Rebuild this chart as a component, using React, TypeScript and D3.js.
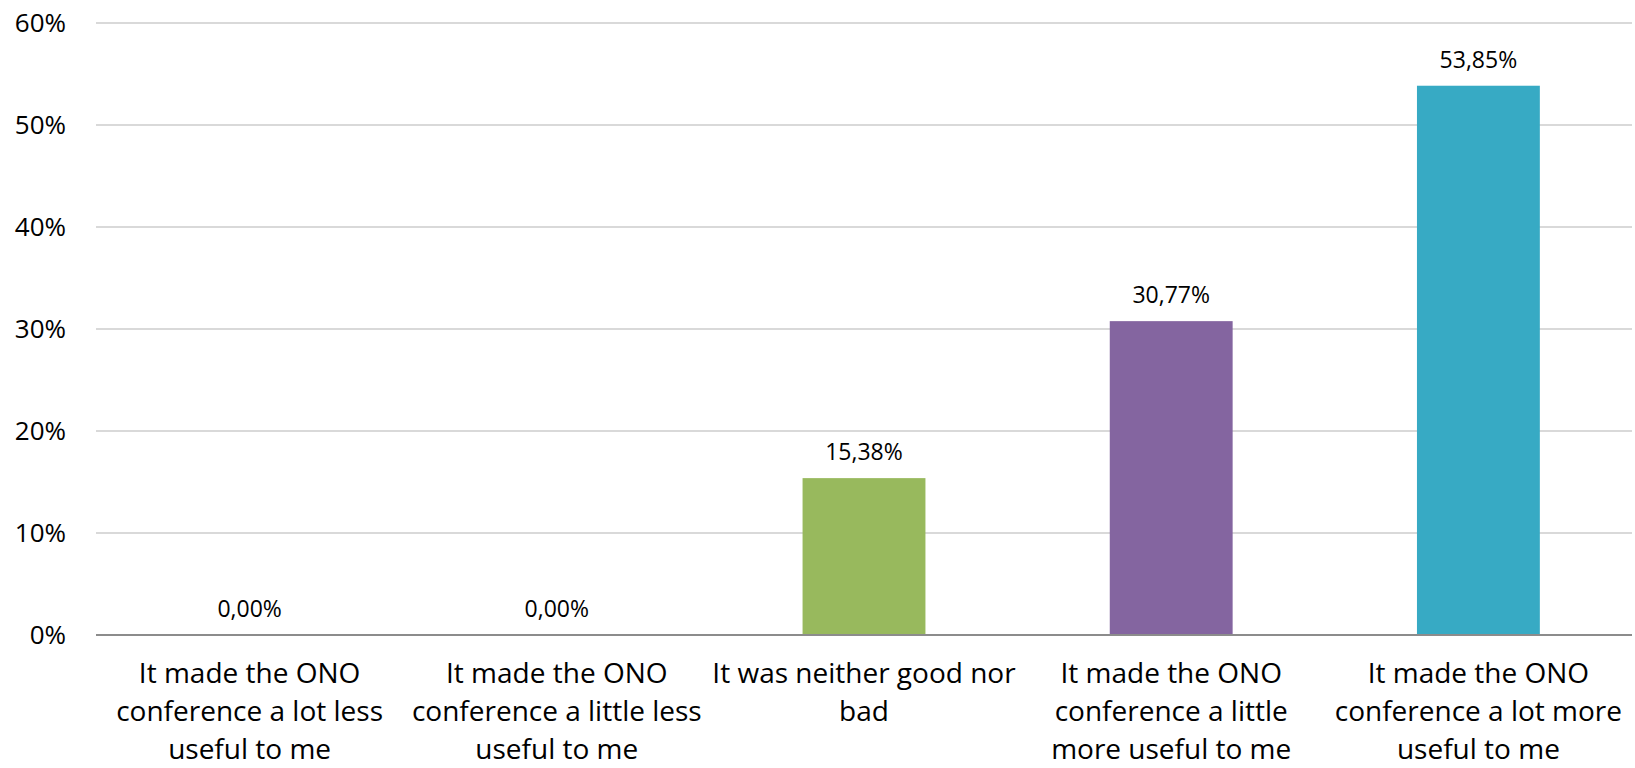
import { useEffect, useRef } from "react";
import * as d3 from "d3";

const categories = [
  "It made the ONO conference a lot less useful to me",
  "It made the ONO conference a little less useful to me",
  "It was neither good nor bad",
  "It made the ONO conference a little more useful to me",
  "It made the ONO conference a lot more useful to me",
];
// how the labels wrap in the original
const categoryLines = [
  ["It made the ONO", "conference a lot less", "useful to me"],
  ["It made the ONO", "conference a little less", "useful to me"],
  ["It was neither good nor", "bad"],
  ["It made the ONO", "conference a little", "more useful to me"],
  ["It made the ONO", "conference a lot more", "useful to me"],
];
const values = [0, 0, 15.38, 30.77, 53.85];
const barColors = ["#4F81BD", "#C0504D", "#98B95D", "#8465A0", "#37AAC4"];
const yTicks = [0, 10, 20, 30, 40, 50, 60];

const App = () => {
  const svgRef = useRef(null);
  const width = 1635;
  const height = 768;
  const margin = { top: 23, left: 96, bottom: 133, right: 3 };
  const font = "'Open Sans', 'DejaVu Sans', sans-serif";

  useEffect(() => {
    const svg = d3.select(svgRef.current);
    svg.selectAll("*").remove();

    const x = d3
      .scaleBand()
      .domain(categories)
      .range([margin.left, width - margin.right])
      .paddingInner(0.6)
      .paddingOuter(0.3);

    const y = d3
      .scaleLinear()
      .domain([0, 60])
      .range([height - margin.bottom, margin.top]);

    // gridlines
    svg
      .append("g")
      .selectAll("line")
      .data(yTicks.filter((t) => t > 0))
      .enter()
      .append("line")
      .attr("x1", margin.left)
      .attr("x2", width - margin.right)
      .attr("y1", (d) => y(d))
      .attr("y2", (d) => y(d))
      .attr("stroke", "#D9D9D9")
      .attr("stroke-width", 2);

    // y tick labels
    svg
      .append("g")
      .selectAll("text")
      .data(yTicks)
      .enter()
      .append("text")
      .attr("x", 66)
      .attr("y", (d) => y(d))
      .attr("dy", "0.35em")
      .attr("text-anchor", "end")
      .attr("font-family", font)
      .attr("font-size", 26)
      .attr("fill", "#000")
      .text((d) => d + "%");

    // bars
    svg
      .append("g")
      .selectAll("rect")
      .data(values)
      .enter()
      .append("rect")
      .attr("x", (_, i) => x(categories[i]) as number)
      .attr("y", (d) => y(d))
      .attr("width", x.bandwidth())
      .attr("height", (d) => y(0) - y(d))
      .attr("fill", (_, i) => barColors[i]);

    // baseline axis
    svg
      .append("line")
      .attr("x1", margin.left)
      .attr("x2", width - margin.right)
      .attr("y1", y(0))
      .attr("y2", y(0))
      .attr("stroke", "#8C8C8C")
      .attr("stroke-width", 2);

    // data labels
    svg
      .append("g")
      .selectAll("text")
      .data(values)
      .enter()
      .append("text")
      .attr("x", (_, i) => (x(categories[i]) as number) + x.bandwidth() / 2)
      .attr("y", (d) => y(d) - 18)
      .attr("text-anchor", "middle")
      .attr("font-family", font)
      .attr("font-size", 23)
      .attr("fill", "#000")
      .text((d) => d.toFixed(2).replace(".", ",") + "%");

    // category labels
    const cat = svg
      .append("g")
      .selectAll("text")
      .data(categoryLines)
      .enter()
      .append("text")
      .attr("text-anchor", "middle")
      .attr("font-family", font)
      .attr("font-size", 28)
      .attr("fill", "#000");
    cat
      .selectAll("tspan")
      .data((d, i) => d.map((line) => ({ line, i })))
      .enter()
      .append("tspan")
      .attr("x", (d) => (x(categories[d.i]) as number) + x.bandwidth() / 2)
      .attr("y", (_, j) => 683 + j * 38)
      .text((d) => d.line);
  }, []);

  return (
    <svg
      ref={svgRef}
      width={width}
      height={height}
      style={{ position: "absolute", left: 0, top: 0, background: "#fff" }}
    />
  );
};

export default App;
